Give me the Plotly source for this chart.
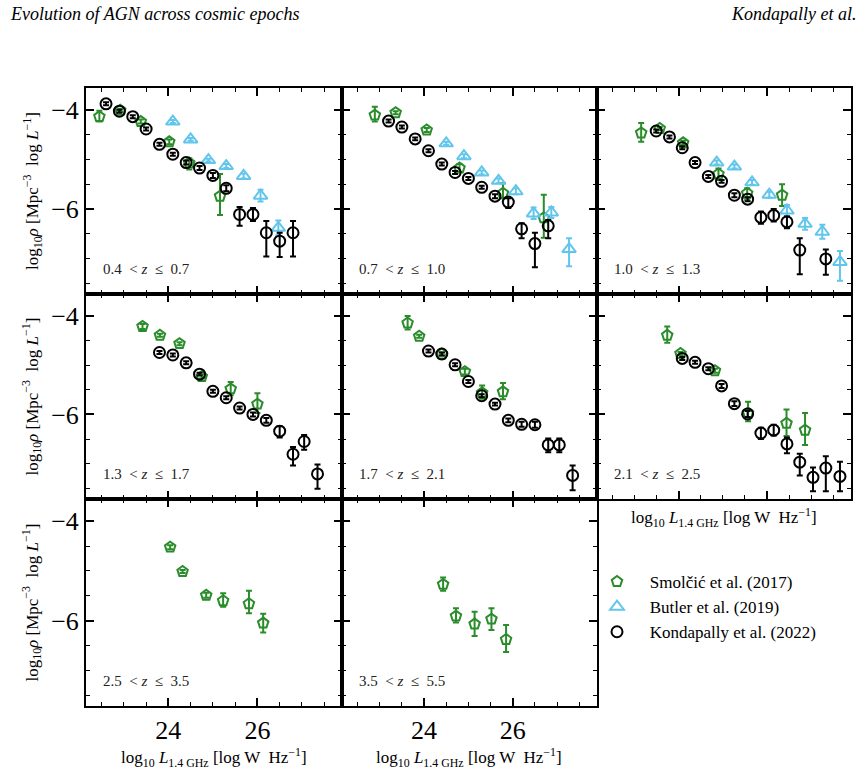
import plotly.graph_objects as go

# ---------------- data ----------------
z_labels = ["0.4", "0.7", "1.0", "1.3", "1.7", "2.1", "2.5", "3.5", "5.5"]

# Panel 1: 0.4 < z <= 0.7
k1_L = [22.6, 22.9, 23.2, 23.5, 23.8, 24.1, 24.4, 24.7, 25.0, 25.3, 25.6, 25.9, 26.2, 26.5, 26.8]
k1_rho = [-3.87, -4.02, -4.13, -4.38, -4.69, -4.89, -5.06, -5.17, -5.32, -5.58, -6.11, -6.11, -6.48, -6.65, -6.48]
k1_hi = [0.03, 0.03, 0.03, 0.03, 0.03, 0.03, 0.04, 0.04, 0.05, 0.06, 0.15, 0.13, 0.24, 0.17, 0.24]
k1_lo = [0.03, 0.03, 0.03, 0.03, 0.03, 0.03, 0.04, 0.04, 0.05, 0.06, 0.23, 0.13, 0.48, 0.32, 0.48]
s1_L = [22.45, 22.92, 23.38, 24.02, 24.47, 25.16]
s1_rho = [-4.13, -4.00, -4.23, -4.64, -5.07, -5.74]
s1_hi = [0.12, 0.03, 0.04, 0.05, 0.10, 0.45]
s1_lo = [0.10, 0.03, 0.04, 0.05, 0.13, 0.38]
b1_L = [24.1, 24.5, 24.9, 25.3, 25.69, 26.07, 26.47]
b1_rho = [-4.23, -4.59, -5.01, -5.13, -5.33, -5.73, -6.38]
b1_hi = [0.03, 0.03, 0.03, 0.04, 0.05, 0.12, 0.15]
b1_lo = [0.03, 0.03, 0.03, 0.04, 0.05, 0.12, 0.15]

# Panel 2: 0.7 < z <= 1.0
k2_L = [23.2, 23.5, 23.8, 24.1, 24.4, 24.7, 25.0, 25.3, 25.6, 25.9, 26.2, 26.5, 26.8]
k2_rho = [-4.22, -4.34, -4.58, -4.82, -5.09, -5.26, -5.38, -5.56, -5.74, -5.86, -6.40, -6.70, -6.34]
k2_hi = [0.03, 0.03, 0.03, 0.03, 0.03, 0.03, 0.03, 0.03, 0.04, 0.08, 0.11, 0.22, 0.12]
k2_lo = [0.03, 0.03, 0.03, 0.03, 0.03, 0.03, 0.03, 0.03, 0.04, 0.12, 0.19, 0.48, 0.25]
s2_L = [22.89, 23.36, 24.06, 24.80, 25.78, 26.70]
s2_rho = [-4.10, -4.05, -4.40, -5.17, -5.68, -6.18]
s2_hi = [0.17, 0.03, 0.04, 0.08, 0.20, 0.47]
s2_lo = [0.13, 0.03, 0.04, 0.08, 0.10, 0.40]
b2_L = [24.5, 24.9, 25.3, 25.68, 26.07, 26.47, 26.87, 27.27]
b2_rho = [-4.67, -4.93, -5.26, -5.43, -5.64, -6.09, -6.07, -6.81]
b2_hi = [0.03, 0.04, 0.04, 0.05, 0.06, 0.12, 0.11, 0.22]
b2_lo = [0.03, 0.04, 0.04, 0.05, 0.06, 0.11, 0.11, 0.35]

# Panel 3: 1.0 < z <= 1.3
k3_L = [23.49, 23.79, 24.08, 24.37, 24.67, 24.97, 25.26, 25.56, 25.86, 26.15, 26.45, 26.74, 27.33]
k3_rho = [-4.42, -4.54, -4.76, -5.06, -5.34, -5.44, -5.72, -5.80, -6.17, -6.13, -6.26, -6.83, -7.01]
k3_hi = [0.03, 0.03, 0.03, 0.03, 0.03, 0.03, 0.04, 0.04, 0.12, 0.13, 0.11, 0.24, 0.19]
k3_lo = [0.03, 0.03, 0.03, 0.03, 0.03, 0.03, 0.04, 0.04, 0.13, 0.12, 0.13, 0.49, 0.32]
s3_L = [23.15, 23.57, 24.10, 24.90, 25.55, 26.34]
s3_rho = [-4.46, -4.37, -4.66, -5.29, -5.68, -5.72]
s3_hi = [0.20, 0.03, 0.04, 0.11, 0.10, 0.22]
s3_lo = [0.18, 0.03, 0.04, 0.12, 0.13, 0.22]
b3_L = [24.86, 25.26, 25.66, 26.05, 26.45, 26.86, 27.25, 27.65]
b3_rho = [-5.06, -5.14, -5.46, -5.71, -6.03, -6.30, -6.46, -7.07]
b3_hi = [0.04, 0.04, 0.05, 0.06, 0.11, 0.12, 0.14, 0.22]
b3_lo = [0.04, 0.04, 0.05, 0.06, 0.11, 0.12, 0.14, 0.38]

# Panel 4: 1.3 < z <= 1.7
k4_L = [23.8, 24.1, 24.4, 24.7, 25.0, 25.3, 25.6, 25.9, 26.2, 26.5, 26.8, 27.05, 27.35]
k4_rho = [-4.74, -4.79, -4.95, -5.18, -5.53, -5.66, -5.87, -6.00, -6.12, -6.34, -6.81, -6.55, -7.21]
k4_hi = [0.03, 0.03, 0.03, 0.03, 0.03, 0.03, 0.03, 0.04, 0.05, 0.10, 0.15, 0.13, 0.19]
k4_lo = [0.03, 0.03, 0.03, 0.03, 0.03, 0.03, 0.03, 0.04, 0.05, 0.13, 0.23, 0.17, 0.30]
s4_L = [23.42, 23.81, 24.25, 24.75, 25.40, 26.00]
s4_rho = [-4.21, -4.39, -4.56, -5.23, -5.48, -5.79]
s4_hi = [0.05, 0.03, 0.03, 0.04, 0.14, 0.22]
s4_lo = [0.05, 0.03, 0.03, 0.04, 0.13, 0.18]

# Panel 5: 1.7 < z <= 2.1
k5_L = [24.1, 24.4, 24.7, 25.0, 25.3, 25.6, 25.9, 26.2, 26.5, 26.8, 27.05, 27.35]
k5_rho = [-4.71, -4.77, -4.99, -5.33, -5.62, -5.79, -6.12, -6.20, -6.21, -6.62, -6.62, -7.24]
k5_hi = [0.03, 0.03, 0.03, 0.03, 0.03, 0.03, 0.04, 0.05, 0.06, 0.13, 0.13, 0.20]
k5_lo = [0.03, 0.03, 0.03, 0.03, 0.03, 0.03, 0.04, 0.05, 0.06, 0.15, 0.15, 0.30]
s5_L = [23.63, 23.89, 24.40, 24.92, 25.31, 25.78]
s5_rho = [-4.14, -4.41, -4.77, -5.13, -5.56, -5.54]
s5_hi = [0.14, 0.03, 0.03, 0.06, 0.15, 0.18]
s5_lo = [0.13, 0.03, 0.03, 0.06, 0.12, 0.15]

# Panel 6: 2.1 < z <= 2.5
k6_L = [24.08, 24.37, 24.67, 24.97, 25.26, 25.56, 25.86, 26.15, 26.45, 26.74, 27.04, 27.33, 27.65]
k6_rho = [-4.86, -4.94, -5.07, -5.42, -5.78, -5.99, -6.38, -6.32, -6.60, -6.97, -7.28, -7.09, -7.26]
k6_hi = [0.03, 0.03, 0.03, 0.04, 0.05, 0.06, 0.11, 0.11, 0.13, 0.17, 0.20, 0.24, 0.30]
k6_lo = [0.03, 0.03, 0.03, 0.04, 0.05, 0.06, 0.12, 0.11, 0.19, 0.27, 0.28, 0.47, 0.30]
s6_L = [23.74, 24.04, 24.82, 25.57, 26.44, 26.86]
s6_rho = [-4.39, -4.76, -5.11, -5.97, -6.18, -6.32]
s6_hi = [0.18, 0.03, 0.04, 0.23, 0.28, 0.35]
s6_lo = [0.15, 0.03, 0.04, 0.17, 0.26, 0.30]

# Panel 7: 2.5 < z <= 3.5
s7_L = [24.04, 24.32, 24.85, 25.23, 25.81, 26.13]
s7_rho = [-4.52, -5.01, -5.49, -5.60, -5.66, -6.05]
s7_hi = [0.04, 0.03, 0.05, 0.15, 0.26, 0.19]
s7_lo = [0.04, 0.03, 0.05, 0.12, 0.19, 0.19]

# Panel 8: 3.5 < z <= 5.5
s8_L = [24.43, 24.72, 25.14, 25.52, 25.85]
s8_rho = [-5.27, -5.91, -6.07, -5.97, -6.38]
s8_hi = [0.14, 0.16, 0.25, 0.22, 0.29]
s8_lo = [0.13, 0.13, 0.24, 0.22, 0.25]

x_ticks = [24, 26]
y_ticks = [-4, -6]

# ---------------- styling / layout ----------------
W, H = 868, 774
FONT = "Liberation Serif"
GREEN = "#2a8c2a"
BLUE = "#62c6ec"
BLACK = "#000000"

col_px = [(86, 342), (342, 597), (597, 851)]
row_px = [(88, 294), (294, 499), (499, 706)]

panels = [
    # (row, col, smolcic, butler, kondapally, zlo, zhi)
    (0, 0, (s1_L, s1_rho, s1_hi, s1_lo), (b1_L, b1_rho, b1_hi, b1_lo), (k1_L, k1_rho, k1_hi, k1_lo), 0, 1),
    (0, 1, (s2_L, s2_rho, s2_hi, s2_lo), (b2_L, b2_rho, b2_hi, b2_lo), (k2_L, k2_rho, k2_hi, k2_lo), 1, 2),
    (0, 2, (s3_L, s3_rho, s3_hi, s3_lo), (b3_L, b3_rho, b3_hi, b3_lo), (k3_L, k3_rho, k3_hi, k3_lo), 2, 3),
    (1, 0, (s4_L, s4_rho, s4_hi, s4_lo), None, (k4_L, k4_rho, k4_hi, k4_lo), 3, 4),
    (1, 1, (s5_L, s5_rho, s5_hi, s5_lo), None, (k5_L, k5_rho, k5_hi, k5_lo), 4, 5),
    (1, 2, (s6_L, s6_rho, s6_hi, s6_lo), None, (k6_L, k6_rho, k6_hi, k6_lo), 5, 6),
    (2, 0, (s7_L, s7_rho, s7_hi, s7_lo), None, None, 6, 7),
    (2, 1, (s8_L, s8_rho, s8_hi, s8_lo), None, None, 7, 8),
]

NB = "\u00a0"
series_style = [
    ("Smolčić et al. (2017)", "pentagon-open", GREEN, 11),
    ("Butler et al. (2019)", "triangle-up-open", BLUE, 12),
    ("Kondapally et al. (2022)", "circle-open", BLACK, 11),
]

fig = go.Figure()
layout = {}
annotations = []

for i, (r, c, sm, bu, ko, zlo, zhi) in enumerate(panels):
    n = i + 1
    xa = "x" if n == 1 else f"x{n}"
    ya = "y" if n == 1 else f"y{n}"
    for j, dat in enumerate((sm, bu, ko)):
        if dat is None:
            continue
        name, sym, col, size = series_style[j]
        L, rho, hi, lo = dat
        fig.add_trace(go.Scatter(
            x=L, y=rho, mode="markers", xaxis=xa, yaxis=ya,
            name=NB * 3 + name, showlegend=(n == 1), legendgroup=name,
            marker=dict(symbol=sym, size=size, color=col, line=dict(color=col, width=2)),
            error_y=dict(type="data", symmetric=False, array=hi, arrayminus=lo,
                         color=col, thickness=2, width=3),
        ))
    x0, x1 = col_px[c]
    y0, y1 = row_px[r]
    xdom = [x0 / W, x1 / W]
    ydom = [1 - y1 / H, 1 - y0 / H]
    common = dict(showline=True, linewidth=2, linecolor="black", mirror="allticks",
                  ticks="inside", ticklen=8, tickwidth=1.5, tickcolor="black",
                  showgrid=False, zeroline=False,
                  tickfont=dict(family=FONT, size=26, color="black"))
    layout[("xaxis" if n == 1 else f"xaxis{n}")] = dict(
        domain=xdom, anchor=ya, range=[22.15, 27.9], tickvals=x_ticks,
        showticklabels=(r == 2),
        minor=dict(dtick=0.5, tick0=0, ticklen=4, tickwidth=1.2, ticks="inside", tickcolor="black"),
        **common)
    layout[("yaxis" if n == 1 else f"yaxis{n}")] = dict(
        domain=ydom, anchor=xa, range=[-7.72, -3.55], tickvals=y_ticks,
        showticklabels=(c == 0),
        minor=dict(dtick=0.5, tick0=0, ticklen=4, tickwidth=1.2, ticks="inside", tickcolor="black"),
        **common)
    # redshift label
    annotations.append(dict(
        xref="paper", yref="paper", x=(x0 + 15) / W, y=1 - (y1 - 25) / H,
        xanchor="left", yanchor="middle", showarrow=False,
        text=f"{z_labels[zlo]}{NB}{NB}&lt;{NB}<i>z</i>{NB}{NB}≤{NB}{NB}{z_labels[zhi]}",
        font=dict(family=FONT, size=15, color="#222")))

ylab = "log<sub>10</sub><i>ρ</i> [Mpc<sup>−3</sup>  log <i>L</i><sup>−1</sup>]"
xlab = "log<sub>10</sub> <i>L</i><sub>1.4 GHz</sub> [log W  Hz<sup>−1</sup>]"
for (y0, y1) in row_px:
    annotations.append(dict(xref="paper", yref="paper", x=32 / W, y=1 - (y0 + y1) / 2 / H,
                            textangle=-90, showarrow=False, xanchor="center", yanchor="middle",
                            text=ylab, font=dict(family=FONT, size=17, color="black")))
for (c, yc) in [(0, 757), (1, 757), (2, 517)]:
    x0, x1 = col_px[c]
    annotations.append(dict(xref="paper", yref="paper", x=(x0 + x1) / 2 / W, y=1 - yc / H,
                            showarrow=False, xanchor="center", yanchor="middle",
                            text=xlab, font=dict(family=FONT, size=17, color="black")))

annotations.append(dict(xref="paper", yref="paper", x=8 / W, y=1 - 14 / H, showarrow=False,
                        xanchor="left", yanchor="middle",
                        text="<i>Evolution of AGN across cosmic epochs</i>",
                        font=dict(family=FONT, size=18, color="black")))
annotations.append(dict(xref="paper", yref="paper", x=859 / W, y=1 - 14 / H, showarrow=False,
                        xanchor="right", yanchor="middle",
                        text="<i>Kondapally et al.</i>",
                        font=dict(family=FONT, size=18, color="black")))

fig.update_layout(
    width=W, height=H, margin=dict(l=0, r=0, t=0, b=0),
    paper_bgcolor="white", plot_bgcolor="white",
    annotations=annotations,
    legend=dict(x=597 / W, y=1 - 564 / H, xanchor="left", yanchor="top",
                font=dict(family=FONT, size=17, color="black"),
                bgcolor="rgba(0,0,0,0)", tracegroupgap=0, traceorder="grouped"),
    **layout,
)

fig.write_html("out.html")
